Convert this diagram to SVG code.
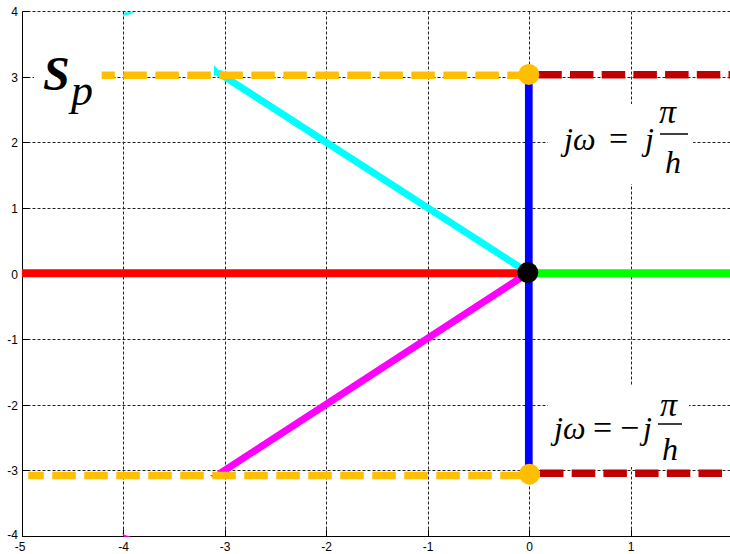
<svg xmlns="http://www.w3.org/2000/svg" width="730" height="554" viewBox="0 0 730 554">
<style>
.grid{stroke:#222;stroke-width:1;stroke-dasharray:3 2;fill:none}
.axis{stroke:#000;stroke-width:1;fill:none}
.tick{font-family:"Liberation Sans",Arial,sans-serif;font-size:12px;fill:#000}
.ylab{text-anchor:end}
.xlab{text-anchor:middle}
.math{font-family:"Liberation Serif","Times New Roman",serif;font-style:italic;fill:#000}
.up{font-family:"Liberation Serif","Times New Roman",serif;fill:#000}
.bar{stroke:#000;stroke-width:1.5}
.dashY{stroke:#FFBF00;stroke-width:7.5;fill:none;stroke-dasharray:23.5 8.5}
.dashR{stroke:#C00000;stroke-width:7.5;fill:none;stroke-dasharray:23.5 8.2}
</style>
<rect width="730" height="554" fill="#fff"/>
<g id="grid">
<line class="grid" x1="123.5" y1="11.5" x2="123.5" y2="536.5"/>
<line class="grid" x1="225.5" y1="11.5" x2="225.5" y2="536.5"/>
<line class="grid" x1="326.5" y1="11.5" x2="326.5" y2="536.5"/>
<line class="grid" x1="428.5" y1="11.5" x2="428.5" y2="536.5"/>
<line class="grid" x1="529.5" y1="11.5" x2="529.5" y2="536.5"/>
<line class="grid" x1="631.5" y1="11.5" x2="631.5" y2="536.5"/>
<line class="grid" x1="22.5" y1="11.5" x2="730" y2="11.5"/>
<line class="grid" x1="22.5" y1="77.5" x2="730" y2="77.5"/>
<line class="grid" x1="22.5" y1="142.5" x2="730" y2="142.5"/>
<line class="grid" x1="22.5" y1="208.5" x2="730" y2="208.5"/>
<line class="grid" x1="22.5" y1="274.5" x2="730" y2="274.5"/>
<line class="grid" x1="22.5" y1="339.5" x2="730" y2="339.5"/>
<line class="grid" x1="22.5" y1="405.5" x2="730" y2="405.5"/>
<line class="grid" x1="22.5" y1="470.5" x2="730" y2="470.5"/>
</g>
<g id="axes">
<line class="axis" x1="22.5" y1="11.5" x2="22.5" y2="537"/>
<line class="axis" x1="22" y1="536.5" x2="730" y2="536.5" stroke="#333"/>
<path class="axis" d="M22.5 11.5h7M22.5 77.5h7M22.5 142.5h7M22.5 208.5h7M22.5 274.5h7M22.5 339.5h7M22.5 405.5h7M22.5 470.5h7M123.5 536.5v-7M225.5 536.5v-7M326.5 536.5v-7M428.5 536.5v-7M529.5 536.5v-7M631.5 536.5v-7"/>
</g>
<g id="ticklabels" class="tick">
<text class="ylab" x="18" y="16">4</text>
<text class="ylab" x="18" y="81.5">3</text>
<text class="ylab" x="18" y="147">2</text>
<text class="ylab" x="18" y="213">1</text>
<text class="ylab" x="18" y="279">0</text>
<text class="ylab" x="18" y="344">-1</text>
<text class="ylab" x="18" y="410">-2</text>
<text class="ylab" x="18" y="475">-3</text>
<text class="ylab" x="18" y="538.5">-4</text>
<text class="xlab" x="20" y="551">-5</text>
<text class="xlab" x="123.5" y="551">-4</text>
<text class="xlab" x="225" y="551">-3</text>
<text class="xlab" x="326.5" y="551">-2</text>
<text class="xlab" x="428" y="551">-1</text>
<text class="xlab" x="529.5" y="551">0</text>
<text class="xlab" x="631" y="551">1</text>
</g>
<g id="labelboxes" fill="#fff">
<rect x="34" y="42" width="67" height="82"/>
<rect x="548" y="104" width="145" height="80"/>
<rect x="548" y="386" width="141" height="81"/>
</g>
<g id="curves" fill="none" stroke-linecap="butt">
<line x1="22" y1="273.3" x2="529" y2="273.3" stroke="#FF0000" stroke-width="8"/>
<line x1="529" y1="273.3" x2="730" y2="273.3" stroke="#00FF00" stroke-width="8"/>
<line x1="528.8" y1="74.5" x2="528.8" y2="474.2" stroke="#0000FF" stroke-width="7.7"/>
<line x1="218" y1="72.5" x2="528" y2="272.5" stroke="#00FFFF" stroke-width="7"/>
<polygon points="214,65 214,76 221,73" fill="#00FFFF"/>
<polygon points="122.7,16 125,12.3 134,12 131,14" fill="#00FFFF"/>
<line x1="219" y1="474" x2="528" y2="273" stroke="#FF00FF" stroke-width="7"/>
<polygon points="210,475.5 213,477 219,476 218,473" fill="#FF00FF"/>
<polygon points="122,533 124,536.8 131.5,537 125,535" fill="#FF00FF"/>
<line class="dashY" x1="101.7" y1="75.2" x2="528" y2="75.2" stroke-dashoffset="10.4"/>
<line class="dashY" x1="28.3" y1="475.5" x2="528" y2="475.5" stroke-dashoffset="8"/>
<line class="dashR" x1="538.3" y1="74.8" x2="730" y2="74.8"/>
<line class="dashR" x1="540" y1="473.3" x2="730" y2="473.3"/>
</g>
<g id="markers">
<circle cx="528.8" cy="74.5" r="10.5" fill="#FFBF00"/>
<circle cx="529.5" cy="474.2" r="10.5" fill="#FFBF00"/>
<circle cx="527.8" cy="272.6" r="10.5" fill="#000"/>
</g>
<g id="label-sp">
<text class="math" x="43" y="90" font-size="48" font-weight="bold">S</text>
<text class="math" x="71" y="105" font-size="44">p</text>
</g>
<g id="label-top">
<text class="math" x="564" y="150" font-size="32">jω</text>
<text class="up" x="609" y="150" font-size="34">=</text>
<text class="math" x="645" y="150" font-size="32">j</text>
<text class="math" x="659" y="123" font-size="34">π</text>
<line class="bar" x1="660" y1="134" x2="688" y2="134"/>
<text class="math" x="665" y="173" font-size="32">h</text>
</g>
<g id="label-bottom">
<text class="math" x="554" y="439" font-size="32">jω</text>
<text class="up" x="593" y="439" font-size="34">=</text>
<text class="up" x="620" y="439" font-size="34">−</text>
<text class="math" x="643" y="439" font-size="32">j</text>
<text class="math" x="660" y="416" font-size="34">π</text>
<line class="bar" x1="658" y1="424" x2="682" y2="424"/>
<text class="math" x="662" y="460" font-size="32">h</text>
</g>
</svg>
